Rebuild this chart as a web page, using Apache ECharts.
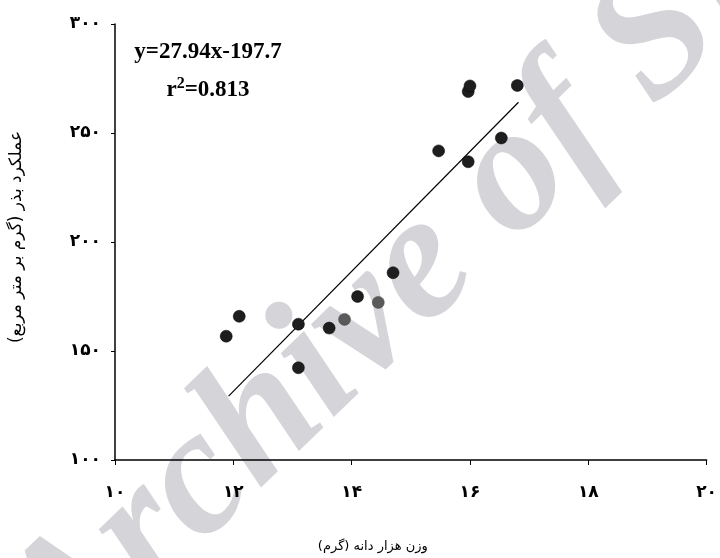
<!DOCTYPE html>
<html>
<head>
<meta charset="utf-8">
<script src="https://cdn.jsdelivr.net/npm/echarts@6/dist/echarts.min.js"></script>
<style>html,body{margin:0;padding:0;background:#fff;}#c{width:720px;height:558px;}</style>
</head>
<body>
<div id="c"></div>
<script>
// ---- data ----
const xTickValues = [10, 12, 14, 16, 18, 20];
const xTickLabels = ['۱۰', '۱۲', '۱۴', '۱۶', '۱۸', '۲۰'];
const yTickValues = [100, 150, 200, 250, 300];
const yTickLabels = ['۱۰۰', '۱۵۰', '۲۰۰', '۲۵۰', '۳۰۰'];

const xName = 'وزن هزار دانه (گرم)';
const yName = 'عملکرد بذر (گرم بر متر مربع)';

// dark points
const darkX = [11.88, 12.10, 13.10, 13.10, 13.62, 14.10, 14.70, 15.47, 15.97, 15.97, 16.00, 16.53, 16.80];
const darkY = [156.8, 165.9, 162.3, 142.3, 160.5, 175.0, 185.9, 241.8, 236.8, 269.0, 271.6, 247.7, 271.8];
// lighter (grey) points
const greyX = [13.88, 14.45];
const greyY = [164.5, 172.3];

// fitted line as drawn (endpoints)
const fitX = [11.92, 16.82];
const fitY = [129.3, 264.1];

const eqText = 'y=27.94x-197.7';
const r2Text = '0.813';
const watermark = 'Archive of SID';

const zip = (a, b) => a.map((v, i) => [v, b[i]]);

const chart = echarts.init(document.getElementById('c'), null, {renderer: 'canvas'});
const labelFont = 'DejaVu Sans';
chart.setOption({
  animation: false,
  backgroundColor: '#ffffff',
  grid: {left: 110, right: 8, top: 24, bottom: 94},
  graphic: [
    {
      type: 'text', z: -10, silent: true,
      x: 32, y: 644, rotation: 44 * Math.PI / 180,
      style: {
        text: watermark, x: 0, y: 0,
        font: 'italic bold 180px "Liberation Serif"',
        fill: '#d5d5d9', textAlign: 'left', textVerticalAlign: 'middle'
      }
    },
    {
      type: 'text', z: 100, x: 208, y: 41,
      style: {text: eqText, font: 'bold 23px "Liberation Serif"', fill: '#000', textAlign: 'center'}
    },
    {
      type: 'text', z: 100, x: 208, y: 76,
      style: {
        text: '{r|r}{s|2}{r|=' + r2Text + '}', textAlign: 'center',
        rich: {
          r: {font: 'bold 23px "Liberation Serif"', fill: '#000', verticalAlign: 'bottom'},
          s: {font: 'bold 16px "Liberation Serif"', fill: '#000', verticalAlign: 'top', padding: [0, 0, 10, 0]}
        }
      }
    }
  ],
  xAxis: {
    type: 'value', min: 10, max: 20, interval: 2,
    axisLine: {lineStyle: {color: '#000', width: 1.5}},
    axisTick: {show: true, length: 5, lineStyle: {color: '#000', width: 1}},
    splitLine: {show: false},
    axisLabel: {
      color: '#000', fontSize: 17, fontWeight: 'bold', fontFamily: labelFont, margin: 24,
      formatter: v => xTickLabels[xTickValues.indexOf(v)] ?? ''
    },
    name: xName, nameLocation: 'middle', nameGap: 80,
    nameTextStyle: {color: '#000', fontSize: 13, fontFamily: labelFont, padding: [0, 76, 0, 0]}
  },
  yAxis: {
    type: 'value', min: 100, max: 300, interval: 50,
    axisLine: {show: true, lineStyle: {color: '#000', width: 1.5}},
    axisTick: {show: true, length: 4, lineStyle: {color: '#000', width: 1}},
    splitLine: {show: false},
    axisLabel: {
      color: '#000', fontSize: 17, fontWeight: 'bold', fontFamily: labelFont, margin: 14,
      formatter: v => yTickLabels[yTickValues.indexOf(v)] ?? ''
    },
    name: yName, nameLocation: 'middle', nameGap: 90, nameRotate: 90,
    nameTextStyle: {color: '#000', fontSize: 17, fontFamily: labelFont, padding: [0, 0, 0, 10]}
  },
  series: [
    {
      type: 'line', data: zip(fitX, fitY), symbol: 'none', z: 2,
      lineStyle: {color: '#000', width: 1.2}
    },
    {
      type: 'scatter', data: zip(darkX, darkY), symbol: 'circle', symbolSize: 12, z: 3,
      itemStyle: {color: '#1e1e1e', borderColor: '#000', borderWidth: 0.5, opacity: 1}
    },
    {
      type: 'scatter', data: zip(greyX, greyY), symbol: 'circle', symbolSize: 12, z: 3,
      itemStyle: {color: '#5a5a5a', borderColor: '#444', borderWidth: 0.5, opacity: 1}
    }
  ]
});
</script>
</body>
</html>
